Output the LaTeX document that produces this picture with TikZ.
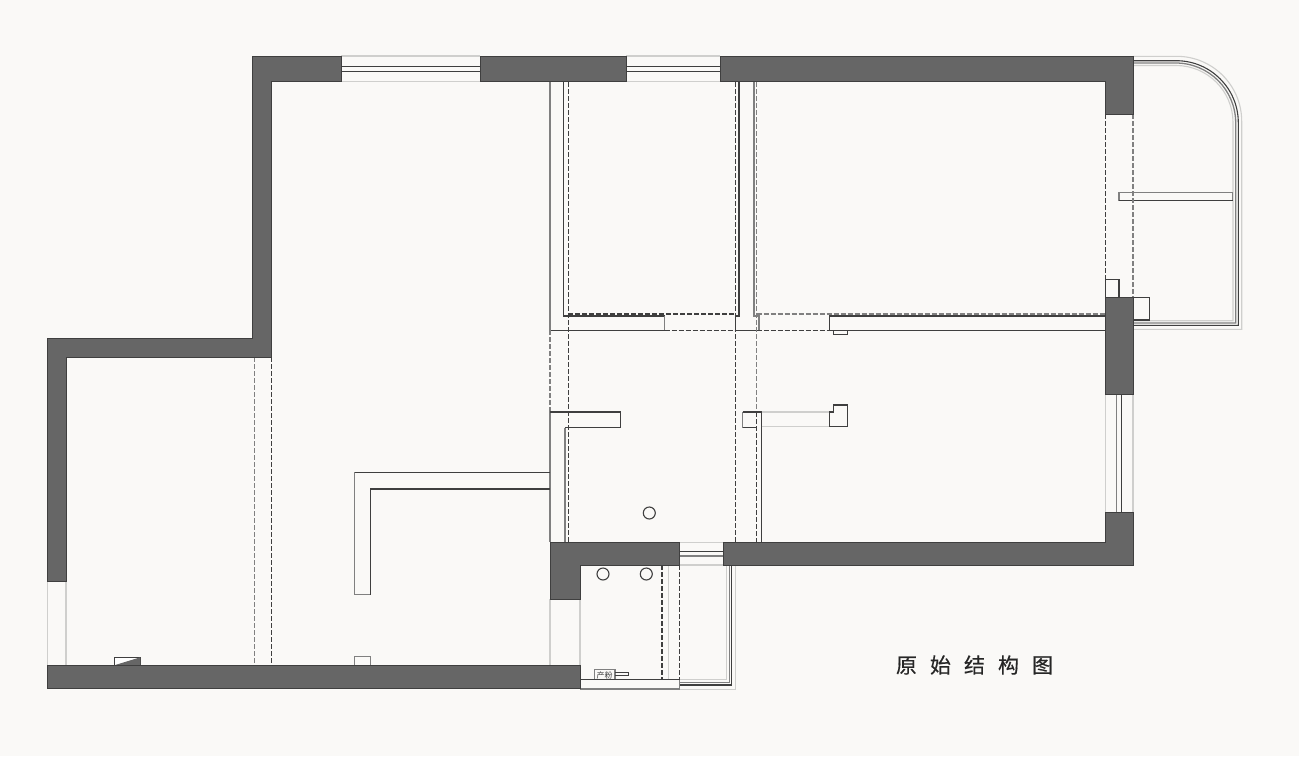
\documentclass[tikz,border=0pt]{standalone}
\usepackage{fontspec}
\newfontfamily\cjk{Noto Sans CJK SC}
\newfontfamily\cjktitle[FakeBold=0.4]{Noto Sans CJK SC}
\usepackage{tikz}
\definecolor{paper}{HTML}{FAF9F7}
\definecolor{wallgray}{HTML}{666666}
\definecolor{inkgray}{HTML}{3F3F3F}
\definecolor{midgray}{HTML}{808080}
\definecolor{palegray}{HTML}{CFCFCD}
\tikzstyle{wall}=[fill=wallgray, draw=inkgray, line width=0.9pt]
\tikzstyle{thinline}=[draw=inkgray, line width=1.1pt]
\tikzstyle{softline}=[draw=midgray, line width=1.3pt]
\tikzstyle{paleline}=[draw=palegray, line width=1.1pt]
\tikzstyle{dashline}=[draw=inkgray, line width=1.1pt, dash pattern=on 5pt off 2pt]
\tikzstyle{softdash}=[draw=midgray, line width=1.2pt, dash pattern=on 5pt off 2pt]
\begin{document}
\begin{tikzpicture}[x=1pt, y=-1pt]
	\useasboundingbox (0,0) rectangle (1299,756);
	\fill[paper] (0,0) rectangle (1299,756);

	% Pale window sills
	\draw[paleline] (341,56) -- (480,56) (341,81.7) -- (480,81.7);
	\draw[paleline] (626,56) -- (720,56) (626,81.7) -- (720,81.7);
	\draw[paleline] (47.5,581) -- (47.5,665) (66,581) -- (66,665);
	\draw[paleline] (550,599) -- (550,665) (580,599) -- (580,665);
	\draw[paleline] (679,542.5) -- (723,542.5) (679,565) -- (723,565);
	\draw[paleline] (1105.5,394.7) -- (1105.5,512.7) (1133,394.7) -- (1133,512.7);

	% Window panes
	\draw[thinline] (341,66.3) -- (480,66.3) (341,71.3) -- (480,71.3);
	\draw[thinline] (626,66.3) -- (720,66.3) (626,71.3) -- (720,71.3);
	\draw[thinline] (679,551.7) -- (723,551.7);
	\draw[softline] (679,556) -- (723,556);
	\draw[softline] (1116.7,394.7) -- (1116.7,512.7);
	\draw[thinline] (1121.7,394.7) -- (1121.7,512.7);

	% Upper balcony rail
	\draw[paleline] (1133,56.3) [rounded corners=65pt] -- (1241.7,56.3) [sharp corners] -- (1241.7,329.3) -- (1133,329.3);
	\draw[thinline] (1133,60.7) [rounded corners=62pt] -- (1238.3,60.7) [sharp corners] -- (1238.3,325.3) -- (1133,325.3);
	\draw[softline] (1133,63) [rounded corners=60pt] -- (1235.7,63) [sharp corners] -- (1235.7,323) -- (1133,323);
	\draw[paleline] (1133,65.5) [rounded corners=57pt] -- (1233,65.5) [sharp corners] -- (1233,320.7) -- (1133,320.7);
	\draw[softline] (1119,192.7) rectangle (1232.7,200.3);
	\draw[thinline] (1119,200.3) -- (1232.7,200.3);
	\draw[thinline] (1105.3,279.3) rectangle (1119,297.3);
	\draw[thinline] (1133,297.3) -- (1149.3,297.3) -- (1149.3,320) -- (1133,320);
	\draw[dashline] (1105.3,114) -- (1105.3,279.3);
	\draw[softdash] (1133,114) -- (1133,297.3);

	% Lower balcony rail
	\draw[paleline] (679,565.5) -- (726.7,565.5) -- (726.7,679.3) -- (679,679.3);
	\draw[softline] (729.3,565) -- (729.3,682.7) -- (679,682.7);
	\draw[thinline] (731.7,565) -- (731.7,685) -- (679,685);
	\draw[paleline] (735.7,565) -- (735.7,689.3) -- (679,689.3);

	% Partition walls, upper rooms
	\draw[softline] (550,82) -- (550,330.3);
	\draw[thinline] (563.3,82) -- (563.3,316) -- (664.7,316);
	\draw[softline] (664.7,316) -- (664.7,330.3);
	\draw[thinline] (550,330.3) -- (664.7,330.3);
	\draw[thinline] (739,82) -- (739,316) -- (735.7,316) -- (735.7,330.3);
	\draw[softline] (754,82) -- (754,316) -- (759,316) -- (759,330.3);
	\draw[thinline] (735.7,330.3) -- (756.7,330.3);
	\draw[thinline] (829.3,330.3) -- (829.3,316) -- (1105.3,316);
	\draw[thinline] (829.3,330.3) -- (1105.3,330.3);
	\draw[thinline] (833.3,330.3) -- (833.3,334.3) -- (847.7,334.3) -- (847.7,330.3);

	% Dashed wall traces
	\draw[dashline] (568.3,82) -- (568.3,542);
	\draw[dashline] (735.7,82) -- (735.7,542);
	\draw[softdash] (756.7,82) -- (756.7,412);
	\draw[dashline] (756.7,412) -- (756.7,542);
	\draw[dashline] (568.3,314) -- (735.7,314);
	\draw[softdash] (756.7,314) -- (1105.3,314);
	\draw[dashline] (664.7,330.3) -- (735.7,330.3) (756.7,330.3) -- (829.3,330.3);
	\draw[softdash] (550,330.3) -- (550,412);
	\draw[softdash] (254.3,357) -- (254.3,665);
	\draw[dashline] (271.7,357) -- (271.7,665);
	\draw[dashline] (662,565) -- (662,679.7);
	\draw[dashline] (679.3,565) -- (679.3,679.7);
	\draw[paleline] (668.3,565) -- (668.3,679.7);

	% Partition stubs, lower rooms
	\draw[softline] (550,412) -- (550,542);
	\draw[thinline] (550,412) -- (620.7,412) -- (620.7,427.7) -- (565,427.7);
	\draw[softline] (565,427.7) -- (565,542);
	\draw[softline] (742.7,427.7) -- (742.7,412);
	\draw[thinline] (742.7,412) -- (761.7,412) -- (761.7,542);
	\draw[thinline] (742.7,427.7) -- (756.7,427.7);
	\draw[paleline] (761.7,412) -- (829.3,412) (761.7,426.3) -- (829.3,426.3);
	\draw[thinline] (829.3,412) -- (833.3,412) -- (833.3,405) -- (847.7,405) -- (847.7,426.3) -- (829.3,426.3) -- cycle;
	\draw[softline] (550,472.3) -- (354.7,472.3) -- (354.7,594.7) -- (370.3,594.7);
	\draw[thinline] (550,472.3) -- (354.7,472.3);
	\draw[softline] (550,489) -- (370.3,489);
	\draw[thinline] (370.3,594.7) -- (370.3,489) -- (550,489);

	% Fixtures
	\draw[thinline] (649.3,513) circle (6);
	\draw[thinline] (603,574) circle (6);
	\draw[thinline] (646.3,574) circle (6);
	\draw[thinline, fill=white] (114.3,665.3) rectangle (140.3,657.3);
	\fill[wallgray] (114.3,665.3) -- (140.3,657.3) -- (140.3,665.3) -- cycle;
	\draw[softline] (354.3,665.3) -- (354.3,656.3) -- (370.7,656.3) -- (370.7,665.3);
	\draw[softline] (594.3,679.7) -- (594.3,669.3) -- (615,669.3) -- (615,679.7);
	\node[inner sep=0pt, font=\cjk\fontsize{8}{8}\selectfont, inkgray] (meterlabel) at (604.5,675) {产粉};
	\draw[thinline, line width=0.7pt] (615,672.7) -- (628.3,672.7) -- (628.3,675.3) -- (615,675.3);
	\draw[softline] (580,689) -- (679.3,689) -- (679.3,679.7);
	\draw[thinline] (580,679.7) -- (679.3,679.7);

	% Bearing walls
	\draw[wall] (47.3,338) -- (252.3,338) -- (252.3,56) -- (341,56) -- (341,81.7) -- (271.5,81.7)
		-- (271.5,357) -- (66,357) -- (66,581) -- (47.3,581) -- cycle;
	\draw[wall] (480,56) rectangle (626,81.7);
	\draw[wall] (720,56) -- (1133,56) -- (1133,114) -- (1105.3,114) -- (1105.3,81.7) -- (720,81.7) -- cycle;
	\draw[wall] (1105.3,297.3) rectangle (1133,394.7);
	\draw[wall] (1105.3,512.7) -- (1133,512.7) -- (1133,565.3) -- (723.3,565.3) -- (723.3,542.3) -- (1105.3,542.3) -- cycle;
	\draw[wall] (550,542.3) -- (679.3,542.3) -- (679.3,565.3) -- (580,565.3) -- (580,599.3) -- (550,599.3) -- cycle;
	\draw[wall] (47.3,665.3) rectangle (580,688.7);

	% Title
	\node[inner sep=0pt, font=\cjktitle\fontsize{21}{21}\selectfont, text=black!85] (title) at (974.5,665)
		{原\hspace{13pt}始\hspace{13pt}结\hspace{13pt}构\hspace{13pt}图};
\end{tikzpicture}
\end{document}
